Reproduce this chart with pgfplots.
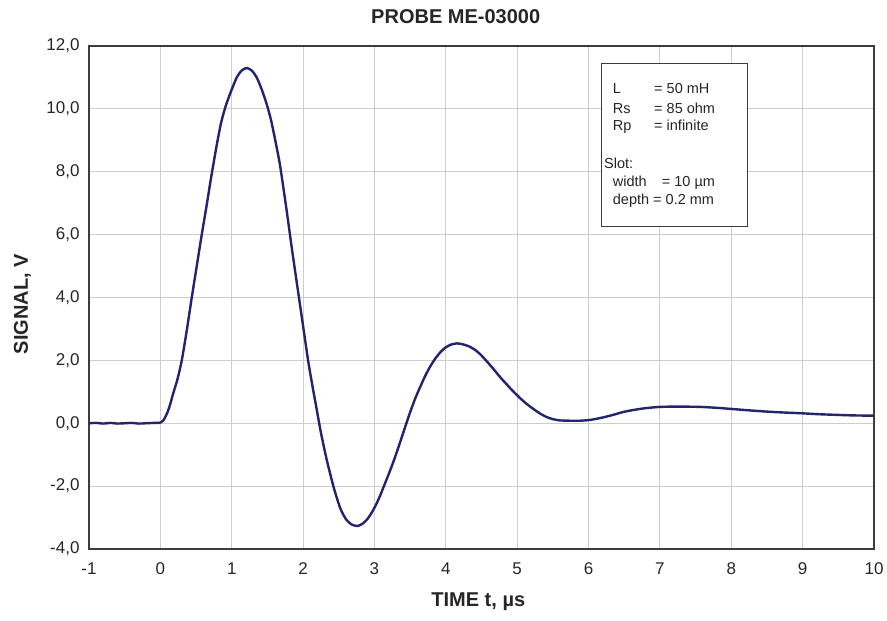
\documentclass[border=0pt]{standalone}
\usepackage{pgfplots}
\pgfplotsset{compat=1.18}
\usepackage{fontspec}
\setmainfont{Liberation Sans}
\definecolor{curve}{RGB}{35,35,110}
\definecolor{gridc}{RGB}{205,205,205}
\definecolor{axisc}{RGB}{60,60,60}
\begin{document}
\begin{tikzpicture}
\path[use as bounding box] (-89pt,-72pt) rectangle (798pt,549pt);
\begin{axis}[
  at={(0pt,0pt)}, anchor=south west,
  scale only axis, width=785pt, height=503pt,
  xmin=-1, xmax=10, ymin=-4, ymax=12,
  xtick={-1,0,...,10}, ytick={-4,-2,...,12},
  grid=major,
  major grid style={gridc, line width=0.9pt},
  axis line style={axisc, line width=1.8pt},
  major tick length=0pt,
  /pgf/number format/assume math mode=true,
  yticklabel style={/pgf/number format/.cd, fixed, fixed zerofill, precision=1, use comma, /tikz/.cd, font=\fontsize{17}{19}\selectfont, text=black!85, xshift=-6pt},
  xticklabel style={font=\fontsize{17}{19}\selectfont, text=black!85, yshift=-10pt},
  clip=false,
]
\addplot[curve, line width=2.4pt, line join=round, smooth, tension=0.4] table {
-1.00 0.00
-0.90 0.01
-0.80 -0.01
-0.70 0.01
-0.60 -0.01
-0.50 0.00
-0.40 0.01
-0.30 -0.01
-0.20 0.00
-0.10 0.01
0.00 0.02
0.05 0.12
0.10 0.35
0.14 0.62
0.18 0.95
0.24 1.40
0.30 2.00
0.37 2.95
0.44 4.00
0.51 5.00
0.58 6.00
0.65 6.95
0.71 7.80
0.79 8.85
0.85 9.55
0.91 10.05
0.98 10.50
1.07 11.00
1.14 11.22
1.21 11.30
1.28 11.22
1.35 11.00
1.42 10.62
1.49 10.15
1.55 9.65
1.61 9.00
1.67 8.30
1.72 7.55
1.78 6.60
1.84 5.60
1.91 4.50
1.99 3.25
2.07 2.00
2.13 1.20
2.19 0.45
2.25 -0.30
2.33 -1.15
2.43 -2.05
2.52 -2.70
2.60 -3.05
2.68 -3.22
2.76 -3.27
2.83 -3.20
2.90 -3.05
2.96 -2.85
3.02 -2.60
3.08 -2.30
3.15 -1.90
3.22 -1.50
3.29 -1.07
3.36 -0.60
3.43 -0.12
3.50 0.35
3.57 0.78
3.64 1.15
3.71 1.50
3.78 1.80
3.85 2.05
3.92 2.25
3.99 2.40
4.07 2.50
4.16 2.54
4.24 2.51
4.32 2.45
4.40 2.35
4.48 2.20
4.57 1.98
4.67 1.72
4.76 1.47
4.86 1.22
4.95 1.00
5.04 0.80
5.13 0.62
5.23 0.45
5.32 0.31
5.41 0.20
5.50 0.13
5.60 0.09
5.75 0.08
5.88 0.08
6.00 0.10
6.11 0.14
6.23 0.20
6.35 0.27
6.49 0.36
6.65 0.43
6.80 0.48
7.00 0.52
7.25 0.53
7.56 0.52
7.80 0.49
8.03 0.45
8.25 0.41
8.50 0.37
8.75 0.34
8.96 0.32
9.20 0.29
9.43 0.27
9.70 0.25
9.99 0.24
};
\end{axis}
% info box
\draw[axisc, line width=1.2pt, fill=white] (512.7pt,485.7pt) rectangle (658.7pt,322.3pt);
\begin{scope}[every node/.style={anchor=base west, inner sep=0pt, font=\fontsize{14.5}{16}\selectfont, text=black!85}]
\node at (523.7pt,455pt) {L};
\node at (565pt,455pt) {= 50 mH};
\node at (523.7pt,435.7pt) {Rs};
\node at (565pt,435.7pt) {= 85 ohm};
\node at (523.7pt,418pt) {Rp};
\node at (565pt,418pt) {= infinite};
\node at (515pt,380pt) {Slot:};
\node at (523.7pt,362.3pt) {width};
\node at (572.7pt,362.3pt) {= 10 µm};
\node at (523.7pt,344pt) {depth = 0.2 mm};
\end{scope}
% title and labels
\node[anchor=base, inner sep=0pt, font=\bfseries\fontsize{20}{23}\selectfont, text=black!85] at (366.7pt,525pt) {PROBE ME-03000};
\node[anchor=base, inner sep=0pt, font=\bfseries\fontsize{20}{23}\selectfont, text=black!85] at (389.3pt,-57.7pt) {TIME t, µs};
\node[anchor=base, rotate=90, inner sep=0pt, font=\bfseries\fontsize{20}{23}\selectfont, text=black!85] at (-61pt,245pt) {SIGNAL, V};
\end{tikzpicture}
\end{document}
